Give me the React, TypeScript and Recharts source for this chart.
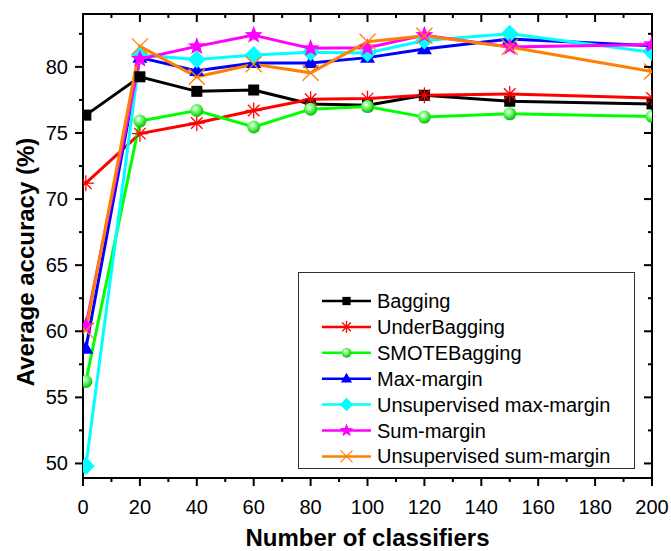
import { Legend, Line, LineChart, ReferenceArea, XAxis, YAxis } from "recharts";

const W = 671;
const H = 551;
const MARGIN = { top: 14, right: 19, bottom: 0, left: 0 };
const FONT = "Arial, 'Liberation Sans', sans-serif";

const classifiers = [1, 20, 40, 60, 80, 100, 120, 150, 200];
const bagging = [76.35, 79.25, 78.15, 78.25, 77.2, 77.1, 77.85, 77.4, 77.2];
const underBagging = [71.2, 74.95, 75.75, 76.7, 77.55, 77.6, 77.85, 77.95, 77.65];
const smoteBagging = [56.2, 75.9, 76.7, 75.45, 76.8, 77.0, 76.2, 76.45, 76.25];
const maxMargin = [58.7, 80.7, 79.7, 80.3, 80.3, 80.7, 81.35, 82.1, 81.6];
const unsupMaxMargin = [49.8, 80.9, 80.55, 80.9, 81.1, 81.05, 82.0, 82.5, 81.1];
const sumMargin = [60.4, 80.6, 81.55, 82.4, 81.4, 81.45, 82.4, 81.5, 81.7];
const unsupSumMargin = [60.05, 81.55, 79.25, 80.2, 79.55, 81.9, 82.35, 81.5, 79.65];

const xTicks = [0, 10, 20, 30, 40, 50, 60, 70, 80, 90, 100, 110, 120, 130, 140, 150, 160, 170, 180, 190, 200];
const yTicks = [50, 52.5, 55, 57.5, 60, 62.5, 65, 67.5, 70, 72.5, 75, 77.5, 80, 82.5];
const X_DOMAIN = [0, 200];
const Y_DOMAIN = [48.9, 84];

type Kind = "square" | "asterisk" | "sphere" | "triangle" | "diamond" | "star" | "cross";

const series: { key: string; name: string; color: string; kind: Kind; values: number[] }[] = [
  { key: "bagging", name: "Bagging", color: "#000000", kind: "square", values: bagging },
  { key: "under", name: "UnderBagging", color: "#ff0000", kind: "asterisk", values: underBagging },
  { key: "smote", name: "SMOTEBagging", color: "#00ff00", kind: "sphere", values: smoteBagging },
  { key: "max", name: "Max-margin", color: "#0000ff", kind: "triangle", values: maxMargin },
  { key: "umax", name: "Unsupervised max-margin", color: "#00ffff", kind: "diamond", values: unsupMaxMargin },
  { key: "sum", name: "Sum-margin", color: "#ff00ff", kind: "star", values: sumMargin },
  { key: "usum", name: "Unsupervised sum-margin", color: "#ff8000", kind: "cross", values: unsupSumMargin },
];

const data = classifiers.map((x, i) => {
  const row: Record<string, number> = { x };
  series.forEach((s) => (row[s.key] = s.values[i]));
  return row;
});

function starPoints(cx: number, cy: number, ro: number, ri: number) {
  const pts: string[] = [];
  for (let i = 0; i < 10; i++) {
    const r = i % 2 === 0 ? ro : ri;
    const a = -Math.PI / 2 + (i * Math.PI) / 5;
    pts.push(`${cx + r * Math.cos(a)},${cy + r * Math.sin(a)}`);
  }
  return pts.join(" ");
}

function Marker({ kind, cx, cy, color, s = 1 }: { kind: Kind; cx: number; cy: number; color: string; s?: number }) {
  if (cx == null || cy == null) return null;
  switch (kind) {
    case "square": {
      const h = 5.5 * s;
      return <rect x={cx - h} y={cy - h} width={2 * h} height={2 * h} fill={color} />;
    }
    case "asterisk": {
      const r = 8 * s;
      const d = r * 0.72;
      return (
        <g stroke={color} strokeWidth={1.3}>
          <line x1={cx} y1={cy - r} x2={cx} y2={cy + r} />
          <line x1={cx - r} y1={cy} x2={cx + r} y2={cy} />
          <line x1={cx - d} y1={cy - d} x2={cx + d} y2={cy + d} />
          <line x1={cx - d} y1={cy + d} x2={cx + d} y2={cy - d} />
        </g>
      );
    }
    case "sphere": {
      const r = 6.5 * s;
      return (
        <g>
          <defs>
            <radialGradient id="sphereGrad" cx="40%" cy="35%" r="65%">
              <stop offset="0%" stopColor="#ffffff" />
              <stop offset="35%" stopColor="#80ff80" />
              <stop offset="100%" stopColor="#00c000" />
            </radialGradient>
          </defs>
          <circle cx={cx} cy={cy} r={r} fill="url(#sphereGrad)" />
        </g>
      );
    }
    case "triangle": {
      const w = 7.5 * s;
      const h = 13 * s;
      return (
        <polygon
          points={`${cx},${cy - h * 0.6} ${cx - w},${cy + h * 0.4} ${cx + w},${cy + h * 0.4}`}
          fill={color}
        />
      );
    }
    case "diamond": {
      const r = 9 * s;
      return <polygon points={`${cx},${cy - r} ${cx + r},${cy} ${cx},${cy + r} ${cx - r},${cy}`} fill={color} />;
    }
    case "star":
      return <polygon points={starPoints(cx, cy, 9.5 * s, 4 * s)} fill={color} />;
    case "cross": {
      const r = 8 * s;
      return (
        <g stroke={color} strokeWidth={1.3}>
          <line x1={cx - r} y1={cy - r} x2={cx + r} y2={cy + r} />
          <line x1={cx - r} y1={cy + r} x2={cx + r} y2={cy - r} />
        </g>
      );
    }
  }
  return null;
}

const plotTop = MARGIN.top;
const plotRight = W - MARGIN.right;

function XTick(props: any) {
  const { x, y, payload } = props;
  const major = payload.value % 20 === 0;
  const len = major ? 8 : 4;
  return (
    <g>
      <line x1={x} y1={y} x2={x} y2={y + len} stroke="#000" strokeWidth={2} />
      <line x1={x} y1={plotTop} x2={x} y2={plotTop + len} stroke="#000" strokeWidth={2} />
      {major && (
        <text x={x} y={y + 36} textAnchor="middle" fontSize={20} fontFamily={FONT} fill="#000">
          {payload.value}
        </text>
      )}
    </g>
  );
}

function YTick(props: any) {
  const { x, y, payload } = props;
  const major = payload.value % 5 === 0;
  const len = major ? 8 : 4;
  return (
    <g>
      <line x1={x - len} y1={y} x2={x} y2={y} stroke="#000" strokeWidth={2} />
      <line x1={plotRight - len} y1={y} x2={plotRight} y2={y} stroke="#000" strokeWidth={2} />
      {major && (
        <text x={x - 15} y={y + 7} textAnchor="end" fontSize={20} fontFamily={FONT} fill="#000">
          {payload.value}
        </text>
      )}
    </g>
  );
}

// legend keeps the plotting order of the series, not recharts' sorted payload
function LegendBox() {
  return (
    <div style={{ width: 335, height: 195, border: "1.5px solid #333", background: "#fff" }}>
      <svg width={335} height={195} style={{ overflow: "visible", display: "block" }}>
        {series.map((s, i) => {
          const cy = 28 + i * 25.9;
          return (
            <g key={s.key}>
              <line x1={23} y1={cy} x2={72} y2={cy} stroke={s.color} strokeWidth={2.5} />
              <Marker kind={s.kind} cx={47.5} cy={cy} color={s.color} s={0.75} />
              <text x={78} y={cy + 7} fontSize={20} fontFamily={FONT} fill="#000">
                {s.name}
              </text>
            </g>
          );
        })}
      </svg>
    </div>
  );
}

export default function App() {
  return (
    <div style={{ position: "absolute", left: 0, top: 0, background: "#fff" }}>
      <LineChart width={W} height={H} data={data} margin={MARGIN}>
        <XAxis
          dataKey="x"
          type="number"
          domain={X_DOMAIN}
          allowDataOverflow
          ticks={xTicks}
          interval={0}
          height={73}
          tickSize={0}
          tickMargin={0}
          tickLine={false}
          axisLine={false}
          tick={XTick}
          label={(p: any) => {
            const vb = p.viewBox;
            return (
              <text
                x={vb.x + vb.width / 2}
                y={vb.y + 68}
                textAnchor="middle"
                fontSize={24}
                fontWeight="bold"
                fontFamily={FONT}
                fill="#000"
              >
                Number of classifiers
              </text>
            );
          }}
        />
        <YAxis
          type="number"
          domain={Y_DOMAIN}
          allowDataOverflow
          ticks={yTicks}
          interval={0}
          width={83}
          tickSize={0}
          tickMargin={0}
          tickLine={false}
          axisLine={false}
          tick={YTick}
          label={(p: any) => {
            const vb = p.viewBox;
            const cx = vb.x + 25;
            const cy = vb.y + vb.height / 2 + 16;
            return (
              <text
                x={cx}
                y={cy}
                transform={`rotate(-90 ${cx} ${cy})`}
                textAnchor="middle"
                dominantBaseline="central"
                fontSize={24}
                fontWeight="bold"
                fontFamily={FONT}
                fill="#000"
              >
                Average accuracy (%)
              </text>
            );
          }}
        />
        <ReferenceArea
          x1={X_DOMAIN[0]}
          x2={X_DOMAIN[1]}
          y1={Y_DOMAIN[0]}
          y2={Y_DOMAIN[1]}
          fill="none"
          fillOpacity={0}
          stroke="#000"
          strokeWidth={2}
        />
        {series.map((s) => (
          <Line
            key={s.key}
            dataKey={s.key}
            name={s.name}
            type="linear"
            stroke={s.color}
            strokeWidth={3}
            isAnimationActive={false}
            activeDot={false}
            dot={(p: any) => (
              <Marker key={`${s.key}-${p.index}`} kind={s.kind} cx={p.cx} cy={p.cy} color={s.color} />
            )}
          />
        ))}
        <Legend
          layout="vertical"
          align="center"
          verticalAlign="middle"
          content={LegendBox}
          wrapperStyle={{ left: 298, top: 272, width: 338, height: 198 }}
        />
      </LineChart>
    </div>
  );
}
